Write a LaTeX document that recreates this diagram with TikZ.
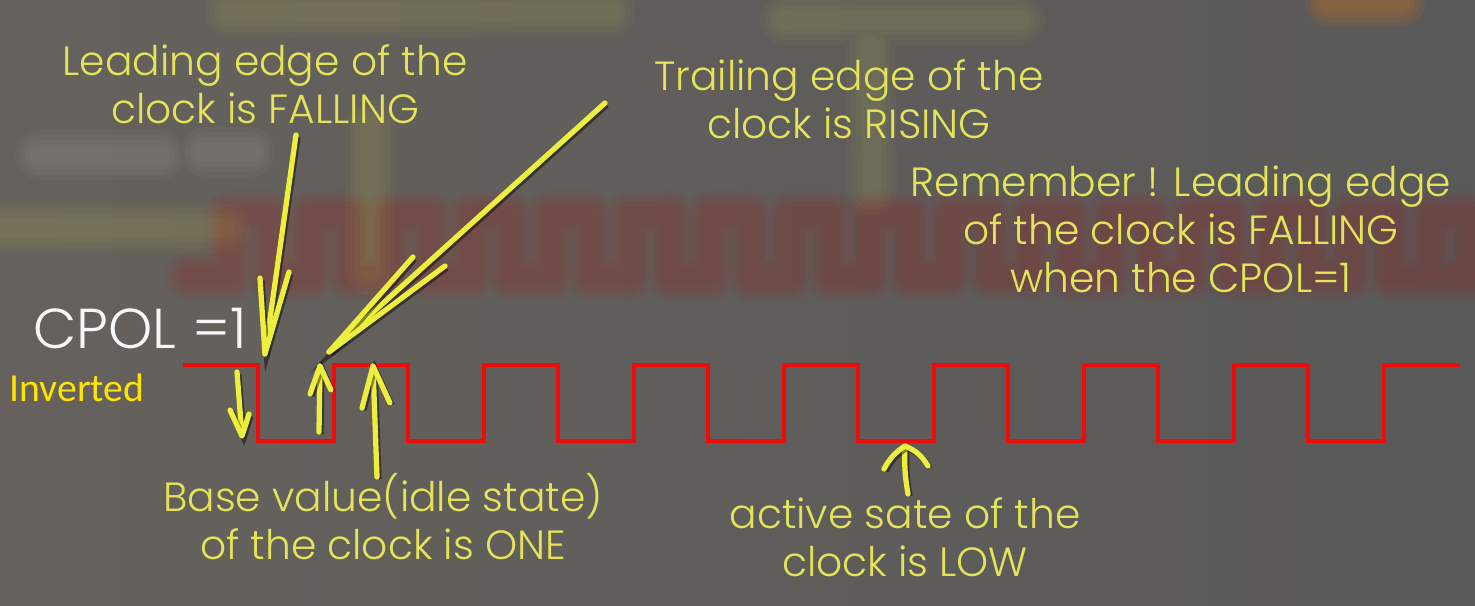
\documentclass[tikz,border=0pt]{standalone}
\usepackage{fontspec}
\setmainfont{Poppins Light}
\newfontfamily\calib{Carlito}
\usetikzlibrary{calc}

\definecolor{slate}{HTML}{595959}
\definecolor{notey}{HTML}{E4E45A}
\definecolor{penY}{HTML}{EEEE3C}
\definecolor{clkred}{HTML}{F00A0A}
\definecolor{invy}{HTML}{FFE400}

\tikzset{
  note/.style={text=notey, align=center, inner sep=0pt,
    font=\fontsize{11.6}{13.7}\selectfont},
  pen/.style={draw=penY, line width=1.5pt, line cap=round, line join=round,
    preaction={draw=black, opacity=.45, line width=1.6pt,
      transform canvas={shift={(.5pt,-.6pt)}}}},
  clk/.style={draw=clkred, line width=1.15pt, line join=miter},
  haze/.style={line cap=round, line join=round}
}

\begin{document}
\begin{tikzpicture}[x=0.01cm, y=-0.01cm]
  \useasboundingbox (0,0) rectangle (1475,605);
  \shade[left color=slate!96!orange!96!white, right color=slate]
    (0,0) rectangle (1475,605);

  % blurred slide behind
  \foreach \w/\o in {50/.04, 40/.04, 30/.04, 20/.035}{
    \draw[haze, red!75!black, opacity=1.3*\o, line width=\w*0.2845pt]
      (190,276) \foreach \k in {0,...,15}{
        -- ({230+80*\k},276) -- ({230+80*\k},216) -- ({270+80*\k},216)
        -- ({270+80*\k},276)} -- (1450,276);
    \draw[haze, yellow!70!gray, opacity=\o, line width=\w*0.2845pt]
      (370,125) -- (370,270) (870,45) -- (872,190)
      (0,228) -- (225,228) (230,12) -- (610,12) (785,20) -- (1020,20);
    \draw[haze, white, opacity=.7*\o, line width=\w*0.2845pt]
      (40,155) -- (160,155) (205,152) -- (250,152);
    \draw[haze, orange, opacity=2*\o, line width=\w*0.2845pt]
      (1330,2) -- (1400,2);
  }

  % clock waveform, idle high
  \coordinate (c0) at (183,365);
  \draw[clk] (c0) \foreach \k in {0,...,7}{
      -- ({258+150*\k},365) -- ({258+150*\k},441)
      -- ({334+150*\k},441) -- ({334+150*\k},365)} -- (1460,365);

  % labels
  \node[note] (lead)  at (265,84)  {Leading edge of the\\clock is FALLING};
  \node[note] (trail) at (849,99)  {Trailing edge of the\\clock is RISING};
  \node[note] (memo)  at (1181,229)
    {Remember ! Leading edge\\of the clock is FALLING\\when the CPOL=1};
  \node[note] (base)  at (383,517) {Base value(idle state)\\of the clock is ONE};
  \node[note] (act)   at (905,537) {active sate of the\\clock is LOW};
  \node[text=white!94!gray, inner sep=0pt, font=\fontsize{16}{18}\selectfont]
    (cpol) at (140,329) {CPOL =1};
  \node[text=invy, inner sep=0pt, font=\calib\fontsize{11.3}{13}\selectfont]
    (inv) at (77,388) {Inverted};

  % pen marks
  \coordinate (leadTip)  at (265,354);
  \coordinate (trailTip) at (329,352);
  \draw[pen] (296,135) -- (leadTip);
  \draw[pen] (260,278) -- (leadTip) -- (289,272);
  \draw[pen] (605,103) -- (trailTip);
  \draw[pen] (413,257) -- (trailTip) -- (445,266);

  \coordinate (dnTip) at (242,436);
  \draw[pen] (237,372) -- (dnTip);
  \draw[pen] (230,410) -- (dnTip) -- (249,414);

  \coordinate (upA) at (320,366);
  \draw[pen] (319,432) -- (upA);
  \draw[pen] (310,394) -- (upA) -- (331,390);

  \coordinate (upB) at (373,366);
  \draw[pen] (377,477) -- (upB);
  \draw[pen] (362,408) -- (upB) -- (390,403);

  \coordinate (upC) at (905,446);
  \draw[pen] (908,494) to[bend left=6] (upC);
  \draw[pen] (884,469) to[bend left=14] (upC) to[bend left=18] (928,466);
\end{tikzpicture}
\end{document}
